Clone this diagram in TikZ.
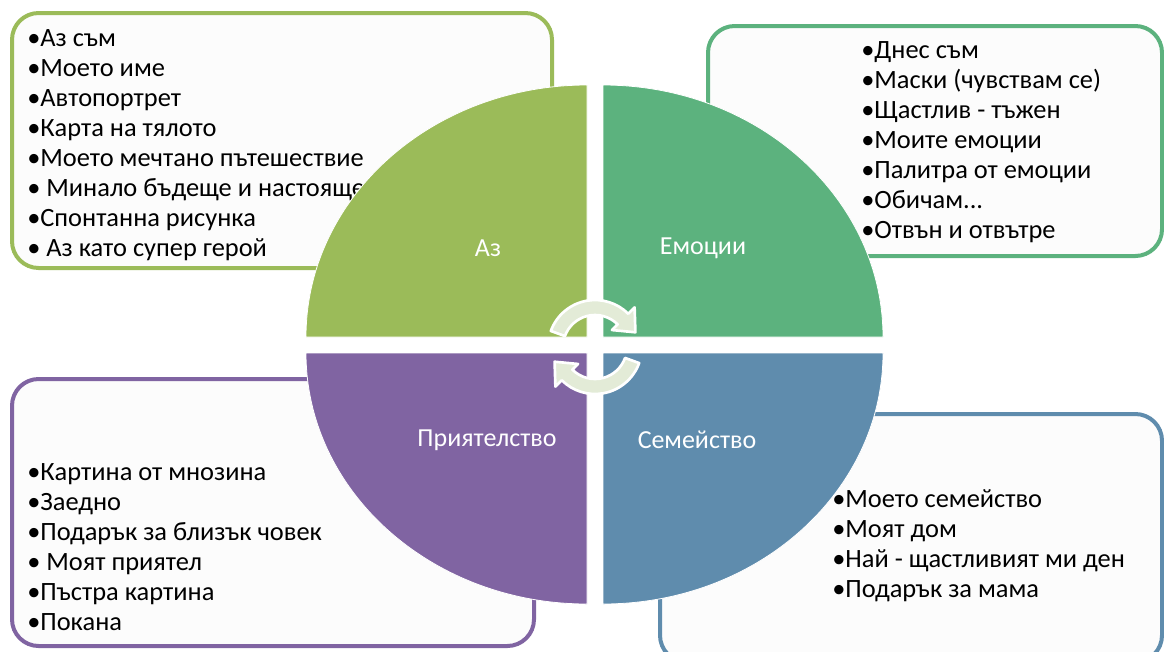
\documentclass[tikz,border=0pt]{standalone}
\usepackage{fontspec}
\setmainfont{Carlito}
\definecolor{azgreen}{HTML}{9BBB59}
\definecolor{emogreen}{HTML}{5CB27E}
\definecolor{famblue}{HTML}{5F8CAD}
\definecolor{fripurple}{HTML}{8064A2}
\definecolor{arrowfill}{HTML}{E3EBD7}
\tikzset{
  listbox/.style={draw=#1, line width=3pt, rounded corners=20pt, fill=black!1},
  quarter/.style={fill=#1, draw=white, line width=0.6pt},
  items/.style={align=left, anchor=north west, inner sep=0pt, font=\fontsize{19.8}{22.5}\selectfont},
  quadlabel/.style={text=white, inner sep=0pt, font=\fontsize{19.5}{22}\selectfont},
  cyclearrow/.style={fill=arrowfill, draw=white, line width=2pt, line join=round}
}

\begin{document}
\begin{tikzpicture}[x=0.75pt, y=0.75pt]
\useasboundingbox (0,0) rectangle (1164,-651);

% frames for the lists
\draw[listbox=azgreen] (12,-13) rectangle (552,-268);
\draw[listbox=emogreen] (708,-26) rectangle (1162,-256);
\draw[listbox=fripurple] (12,-379) rectangle (534,-646);
\draw[listbox=famblue] (660,-414) rectangle (1162,-662);

% lists
\node[items] (azlist) at (27,-25) {\strut•Аз съм\\•Моето име\\•Автопортрет\\•Карта на тялото\\
  •Моето мечтано пътешествие\\• Минало бъдеще и настояще\\•Спонтанна рисунка\\• Аз като супер герой};
\node[items] (emolist) at (861,-37) {\strut•Днес съм\\•Маски (чувствам се)\\•Щастлив - тъжен\\•Моите емоции\\
  •Палитра от емоции\\•Обичам.\kern0pt.\kern0pt.\\•Отвън и отвътре};
\node[items] (frilist) at (27,-459) {\strut•Картина от мнозина\\•Заедно\\•Подарък за близък човек\\
  • Моят приятел\\•Пъстра картина\\•Покана};
\node[items] (famlist) at (832,-486) {\strut•Моето семейство\\•Моят дом\\•Най - щастливият ми ден\\•Подарък за мама};

% circle in four parts
\path[quarter=azgreen] (587,-337) -- (306,-337) arc[start angle=180, end angle=90, x radius=281, y radius=252] -- cycle;
\path[quarter=emogreen] (603,-337) -- (603,-85) arc[start angle=90, end angle=0, x radius=280, y radius=252] -- cycle;
\path[quarter=fripurple] (587,-353) -- (587,-604) arc[start angle=270, end angle=180, x radius=281, y radius=251] -- cycle;
\path[quarter=famblue] (603,-353) -- (883,-353) arc[start angle=0, end angle=-90, x radius=280, y radius=251] -- cycle;

\node[quadlabel] (az) at (488,-248) {Аз};
\node[quadlabel] (emo) at (703,-248) {Емоции};
\node[quadlabel] (fri) at (487,-440) {Приятелство};
\node[quadlabel] (fam) at (697,-440) {Семейство};

% the two turning arrows
\coordinate (c) at (595,-347);
\path[cyclearrow] ([shift={(c)}]160:47) arc[start angle=160, end angle=45, radius=47]
  -- ([shift={(c)}]45:56) -- ([shift={(c)}]20:43) -- ([shift={(c)}]45:24)
  -- ([shift={(c)}]45:32) arc[start angle=45, end angle=160, radius=32] -- cycle;
\path[cyclearrow] ([shift={(c)}]-20:47) arc[start angle=-20, end angle=-135, radius=47]
  -- ([shift={(c)}]-135:56) -- ([shift={(c)}]-160:43) -- ([shift={(c)}]-135:24)
  -- ([shift={(c)}]-135:32) arc[start angle=-135, end angle=-20, radius=32] -- cycle;
\end{tikzpicture}
\end{document}
